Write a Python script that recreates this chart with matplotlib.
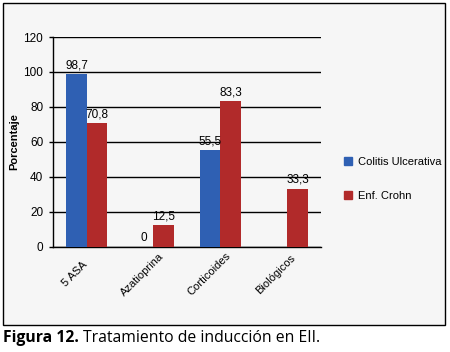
import matplotlib as mpl

mpl.use('Agg')
import matplotlib.pyplot as plt
import matplotlib.transforms as mtrans
from matplotlib.patches import Rectangle, Patch
import numpy as np

# data
categories = ["5 ASA", "Azatioprina", "Corticoides", "Biológicos"]
colitis = [98.7, 0, 55.5, None]
crohn = [70.8, 12.5, 83.3, 33.3]
colitis_labels = ["98,7", "0", "55,5", ""]
crohn_labels = ["70,8", "12,5", "83,3", "33,3"]
yticks = [0, 20, 40, 60, 80, 100, 120]

BLUE = "#2f60b3"
RED = "#b12a2a"
NARROW = ['Liberation Sans Narrow', 'Liberation Sans', 'DejaVu Sans']
CAPTION = ['Open Sans', 'DejaVu Sans']

plt.rcParams['font.family'] = NARROW

fig = plt.figure(figsize=(4.5, 3.52), dpi=100)
fig.patch.set_facecolor("white")
# panel background + frame
fig.patches.append(Rectangle((3 / 450, 1 - 325 / 352), 442 / 450, 322 / 352,
                             transform=fig.transFigure, facecolor="#f6f6f6",
                             edgecolor="black", linewidth=1.0, zorder=-5))

ax = fig.add_axes([53 / 450, 105.3 / 352, 268 / 450, 209.7 / 352])
ax.set_zorder(2)
ax.set_facecolor("none")

x = np.arange(len(categories))
w = 0.3
for i in range(len(categories)):
    if colitis[i] is not None:
        ax.bar(x[i] - w / 2, colitis[i], width=w, color=BLUE, zorder=3)
        ax.text(x[i] - w / 2, colitis[i] + 1.5, colitis_labels[i],
                ha="center", va="bottom", fontsize=8.5, zorder=4)
    ax.bar(x[i] + w / 2, crohn[i], width=w, color=RED, zorder=3)
    ax.text(x[i] + w / 2, crohn[i] + 1.5, crohn_labels[i],
            ha="center", va="bottom", fontsize=8.5, zorder=4)

ax.set_xlim(-0.5, 3.5)
ax.set_ylim(0, 120)
ax.set_yticks(yticks)
ax.set_yticklabels([str(v) for v in yticks], fontsize=8.5)
ax.yaxis.grid(True, color="black", linewidth=1.0, zorder=1)
ax.set_axisbelow(True)
ax.set_xticks(x)
# excel-style rotated labels: box centred a bit left of the tick
ax.set_xticklabels(categories, rotation=45, ha="center", va="center", fontsize=8)
ax.tick_params(axis="x", length=0, pad=20)
shift = mtrans.ScaledTranslation(-0.115, 0, fig.dpi_scale_trans)
for lbl in ax.get_xticklabels():
    lbl.set_transform(lbl.get_transform() + shift)
ax.tick_params(axis="y", length=3, width=1, pad=4)
ax.spines['right'].set_color("none")
ax.spines['top'].set_color("none")
ax.spines['left'].set_linewidth(1.0)
ax.spines['bottom'].set_linewidth(1.0)
ax.set_ylabel("Porcentaje", fontsize=8, fontweight="bold", labelpad=3)

handles = [Patch(color=BLUE, label="Colitis Ulcerativa"),
           Patch(color=RED, label="Enf. Crohn")]
fig.legend(handles=handles, loc="center left", bbox_to_anchor=(334 / 450, 1 - 179 / 352),
           frameon=False, fontsize=8, handlelength=0.7, handleheight=0.7,
           handletextpad=0.6, labelspacing=2.2)

t1 = fig.text(3 / 450, 1 - 342 / 352, "Figura 12.", fontsize=11.3, fontweight="bold",
              family=CAPTION, va="baseline", ha="left")
fig.canvas.draw()
bb = t1.get_window_extent(renderer=fig.canvas.get_renderer())
fig.text((bb.x1 + 4) / 450, 1 - 342 / 352, "Tratamiento de inducción en EII.",
         fontsize=11.3, family=CAPTION, va="baseline", ha="left")

plt.savefig("out.png", dpi=100)
